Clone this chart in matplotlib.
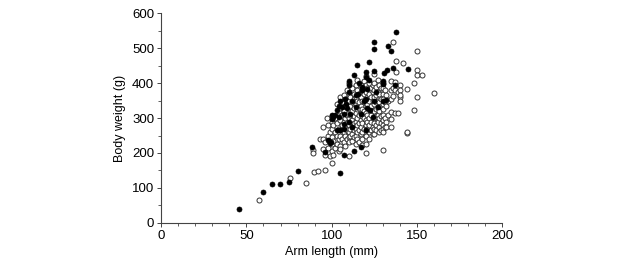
"""
Scatter of body weight vs arm length (open and filled circles)
"""

import matplotlib
matplotlib.use('Agg')
import matplotlib.pyplot as plt
from matplotlib.ticker import MultipleLocator

plt.rcParams['font.family'] = ['Liberation Sans', 'DejaVu Sans']

# Open circles: arm length (mm) -> list of body weights (g)
open_pts = {
    57.5: [66], 75.7: [129], 85: [115], 89.7: [147], 91.7: [149], 95.8: [151],
    89: [209, 199], 93: [240],
    95: [240, 275, 210], 96: [195, 230], 97: [300], 98: [280, 250, 215],
    99: [260, 190], 100: [305, 290, 270, 245, 225, 205, 172],
    101: [280, 235, 195], 102: [300, 260, 215], 103: [340, 285, 250, 225],
    104: [320, 270, 240, 205], 105: [360, 330, 295, 265, 250, 220, 210],
    106: [345, 310, 280, 240], 107: [365, 320, 290, 260, 230],
    108: [355, 335, 300, 275, 250, 220], 109: [380, 345, 310, 285, 265, 240],
    110: [400, 370, 350, 325, 300, 280, 260, 245, 230, 191],
    111: [360, 335, 310, 290, 270, 250], 112: [385, 345, 320, 295, 275, 255, 235],
    113: [370, 355, 330, 305, 285, 265, 245],
    114: [395, 360, 340, 315, 290, 270, 250, 225],
    115: [410, 380, 350, 325, 300, 280, 260, 240],
    116: [370, 345, 330, 310, 285, 265, 230],
    117: [395, 360, 335, 315, 295, 275, 255],
    118: [380, 350, 325, 305, 285, 260, 240, 222],
    119: [405, 370, 345, 320, 300, 270],
    120: [420, 395, 375, 355, 335, 315, 295, 280, 265, 250, 225, 199],
    121: [385, 360, 340, 310, 290, 270],
    122: [400, 370, 350, 325, 300, 280, 260, 240],
    123: [385, 360, 335, 310, 290, 265],
    124: [395, 375, 350, 320, 300, 275, 255],
    125: [425, 400, 380, 360, 340, 320, 300, 285, 270, 255],
    126: [390, 365, 345, 325, 305, 280, 265],
    127: [410, 375, 350, 330, 310, 290],
    128: [395, 370, 345, 320, 300, 275, 260],
    129: [385, 355, 335, 305, 285, 265],
    130: [400, 385, 370, 355, 340, 325, 310, 295, 280, 270, 260, 208],
    131: [380, 345, 300, 275], 132: [365, 335, 290, 275], 133: [350, 310],
    135: [405, 380, 355, 318, 297, 275], 136: [385, 363, 516],
    137: [313, 380, 404], 138: [431, 462],
    139: [313, 375], 140: [394, 380, 359, 366, 350], 142: [458],
    144: [383, 257, 261], 148: [401, 323], 150: [491, 438, 422, 361],
    153: [422], 160: [372],
}

# Filled circles
filled_x = [45.7, 59.8, 65, 69.5, 74.9, 80, 88.6, 96, 105, 107, 112.8, 117.3,
            98, 99.7, 99,
            138, 125, 125, 133, 135, 115, 122, 145, 136, 132.7, 130.4, 113, 110,
            120, 120, 125, 137, 130, 130, 130, 132,
            101, 103, 104, 106, 107, 107, 100, 100, 110, 112, 115.5, 118, 121,
            126, 110, 112, 117, 119, 122.5, 124, 127, 114, 111, 105, 107, 108.5,
            120, 105, 103,
            110, 116, 109, 102, 108, 114, 120, 125, 122, 118, 104, 121]
filled_y = [39, 88, 110, 112, 118, 148, 218, 202, 142, 194, 206, 218,
            237, 232, 228,
            545, 516, 497, 505, 491, 451, 461, 441, 444, 437, 429, 422, 407,
            431, 417, 434, 394, 407, 398, 350, 352,
            304, 322, 303, 331, 312, 270, 308, 298, 374, 350, 369, 379, 384,
            374, 289, 274, 312, 350, 322, 303, 331, 331, 312, 350, 284, 341,
            265, 265, 265,
            395, 400, 330, 310, 355, 365, 355, 350, 410, 390, 335, 330]

open_x = [x for x, ys in open_pts.items() for _ in ys]
open_y = [y for ys in open_pts.values() for y in ys]

fig = plt.figure(figsize=(6.27, 2.67), dpi=100)
ax = fig.add_axes([0.257, 0.165, 0.544, 0.786])

ax.scatter(open_x, open_y, s=13, facecolor='white', edgecolor='#333333',
           linewidth=0.7, zorder=2)
ax.scatter(filled_x, filled_y, s=13, facecolor='black', edgecolor='black',
           linewidth=0.5, zorder=3)

ax.set_xlim(0, 200)
ax.set_ylim(0, 600)
ax.xaxis.set_major_locator(MultipleLocator(50))
ax.xaxis.set_minor_locator(MultipleLocator(10))
ax.yaxis.set_major_locator(MultipleLocator(100))
ax.yaxis.set_minor_locator(MultipleLocator(50))

for side in ['top', 'right']:
    ax.spines[side].set_visible(False)
for side in ['left', 'bottom']:
    ax.spines[side].set_color('#444444')
    ax.spines[side].set_linewidth(0.8)

ax.tick_params(which='major', direction='out', length=3, width=0.7,
               color='#444444', labelsize=9.5, pad=2)
ax.tick_params(which='minor', direction='out', length=2, width=0.6,
               color='#444444')

ax.set_xlabel('Arm length (mm)', fontsize=9, labelpad=3)
ax.set_ylabel('Body weight (g)', fontsize=9, labelpad=4)

plt.savefig('out.png', dpi=100, facecolor='white')
plt.close()
